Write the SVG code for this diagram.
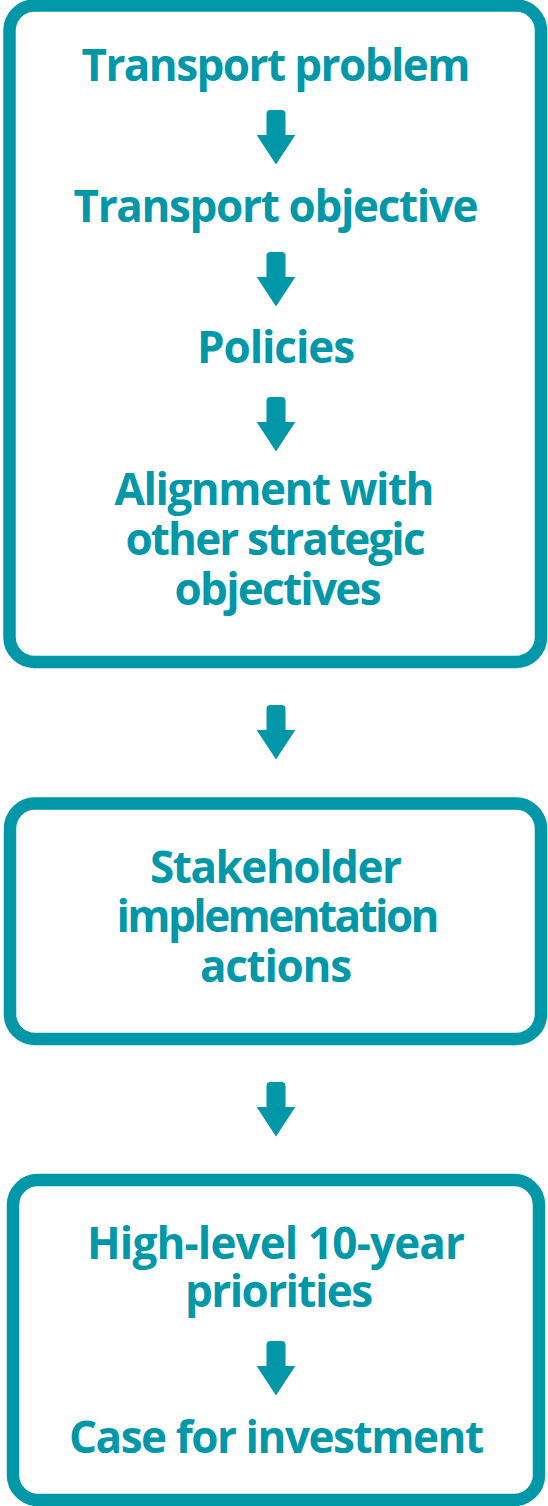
<svg xmlns="http://www.w3.org/2000/svg" xmlns:xlink="http://www.w3.org/1999/xlink" width="548" height="1506" viewBox="0 0 548 1506">
<style>
.box{fill:#fff;stroke:#0097A9;stroke-width:12.5}
.t{font-family:"Open Sans","Noto Sans","Liberation Sans",sans-serif;font-weight:700;font-size:44px;fill:#0097A9;text-anchor:middle}
.arr{fill:#0097A9}
</style>
<defs>
<path id="arrow" d="M-9.5,4 Q-9.5,0 -5.5,0 L5.5,0 Q9.5,0 9.5,4 L9.5,25 L19.3,25 L0,54.5 L-19.3,25 L-9.5,25 Z"/>
</defs>
<rect width="548" height="1506" fill="#fff"/>
<g id="box1">
<rect class="box" x="9.5" y="5.5" width="531.5" height="656.5" rx="25" ry="25"/>
<text class="t" x="276" y="81" textLength="389" lengthAdjust="spacing">Transport problem</text>
<text class="t" x="276" y="221.5" textLength="405" lengthAdjust="spacing">Transport objective</text>
<text class="t" x="276" y="363" textLength="158" lengthAdjust="spacing">Policies</text>
<text class="t" x="274.5" y="505" textLength="320" lengthAdjust="spacing">Alignment with</text>
<text class="t" x="275.5" y="555" textLength="300" lengthAdjust="spacing">other strategic</text>
<text class="t" x="278" y="605" textLength="207" lengthAdjust="spacing">objectives</text>
</g>
<g id="box2">
<rect class="box" x="10" y="803.5" width="531" height="235.5" rx="25" ry="25"/>
<text class="t" x="276" y="882.5" textLength="252" lengthAdjust="spacing">Stakeholder</text>
<text class="t" x="278" y="932" textLength="323" lengthAdjust="spacing">implementation</text>
<text class="t" x="276" y="982" textLength="152" lengthAdjust="spacing">actions</text>
</g>
<g id="box3">
<rect class="box" x="13" y="1180" width="526" height="320" rx="25" ry="25"/>
<text class="t" x="276" y="1258.5" textLength="378" lengthAdjust="spacing">High-level 10-year</text>
<text class="t" x="279" y="1307" textLength="188" lengthAdjust="spacing">priorities</text>
<text class="t" x="276.5" y="1452.5" textLength="415" lengthAdjust="spacing">Case for investment</text>
</g>
<g id="connectors" class="arr">
<use xlink:href="#arrow" href="#arrow" x="276" y="110"/>
<use xlink:href="#arrow" href="#arrow" x="276" y="252"/>
<use xlink:href="#arrow" href="#arrow" x="276" y="397"/>
<use xlink:href="#arrow" href="#arrow" x="276" y="705"/>
<use xlink:href="#arrow" href="#arrow" x="276" y="1082"/>
<use xlink:href="#arrow" href="#arrow" x="276" y="1341"/>
</g>
</svg>
